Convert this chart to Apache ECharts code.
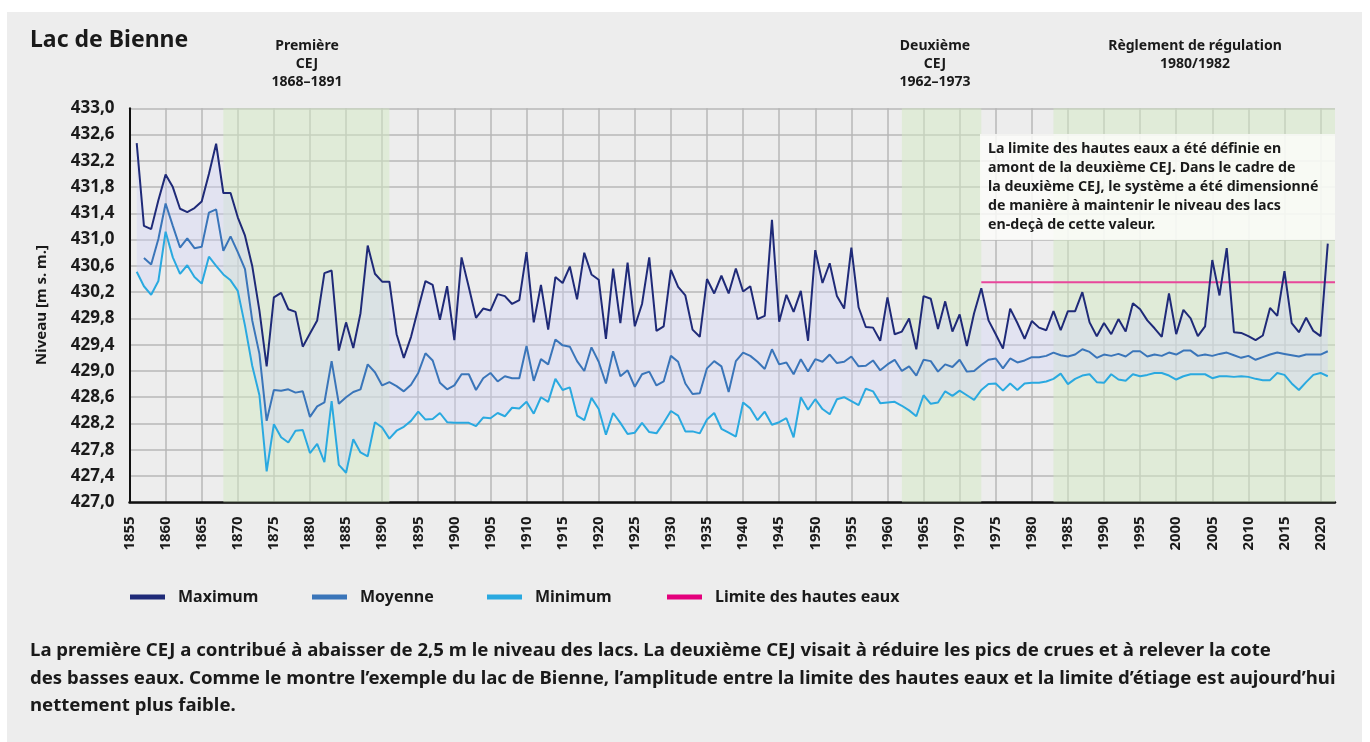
<!DOCTYPE html>
<html>
<head>
<meta charset="utf-8">
<script src="https://cdn.jsdelivr.net/npm/echarts@6/dist/echarts.min.js"></script>
<style>
  body { margin: 0; background: #ffffff; }
  #panel { position: absolute; left: 7px; top: 12px; width: 1355px; height: 730px; background: #ededed; }
  #main { position: absolute; left: 0; top: 0; width: 1370px; height: 742px; }
</style>
</head>
<body>
<div id="panel"></div>
<div id="main"></div>
<script>
// annual lake levels, 1856-2021 (m above sea level)
var firstYear = 1856;
var maxLevel = [
  432.47, 431.21, 431.16, 431.60, 431.99, 431.80, 431.47, 431.42, 431.48, 431.58,
  432.00, 432.46, 431.71, 431.71, 431.34, 431.06, 430.60, 429.92, 429.07, 430.12,
  430.19, 429.94, 429.90, 429.37, 429.57, 429.77, 430.49, 430.53, 429.31, 429.74,
  429.35, 429.88, 430.91, 430.48, 430.36, 430.36, 429.56, 429.20, 429.52, 429.95,
  430.37, 430.31, 429.78, 430.29, 429.47, 430.73, 430.28, 429.81, 429.95, 429.92,
  430.17, 430.14, 430.02, 430.08, 430.81, 429.74, 430.31, 429.63, 430.43, 430.34,
  430.59, 430.09, 430.80, 430.47, 430.39, 429.49, 430.56, 429.73, 430.65, 429.68,
  430.02, 430.73, 429.61, 429.68, 430.54, 430.28, 430.15, 429.63, 429.52, 430.40,
  430.18, 430.45, 430.18, 430.56, 430.21, 430.29, 429.79, 429.84, 431.30, 429.75,
  430.16, 429.90, 430.22, 429.46, 430.84, 430.34, 430.64, 430.14, 429.95, 430.88,
  429.97, 429.67, 429.66, 429.46, 430.12, 429.56, 429.60, 429.80, 429.33, 430.14,
  430.10, 429.64, 430.06, 429.60, 429.86, 429.38, 429.88, 430.26, 429.77, 429.56,
  429.34, 429.95, 429.73, 429.49, 429.76, 429.66, 429.62, 429.91, 429.62, 429.91,
  429.91, 430.20, 429.74, 429.53, 429.73, 429.56, 429.79, 429.60, 430.03, 429.94,
  429.77, 429.65, 429.52, 430.18, 429.56, 429.93, 429.80, 429.53, 429.68, 430.69,
  430.15, 430.87, 429.59, 429.58, 429.53, 429.47, 429.54, 429.96, 429.84, 430.52,
  429.73, 429.59, 429.81, 429.61, 429.53, 430.94
];
var meanLevel = [
  null,   430.72, 430.62, 431.01, 431.55, 431.21, 430.88, 431.02, 430.87, 430.89,
  431.41, 431.46, 430.83, 431.05, 430.81, 430.55, 429.77, 429.26, 428.24, 428.71,
  428.70, 428.72, 428.67, 428.69, 428.30, 428.46, 428.52, 429.15, 428.50, 428.60,
  428.68, 428.72, 429.10, 428.98, 428.78, 428.83, 428.77, 428.69, 428.79, 428.97,
  429.27, 429.16, 428.82, 428.72, 428.78, 428.95, 428.95, 428.71, 428.89, 428.97,
  428.84, 428.92, 428.89, 428.89, 429.38, 428.85, 429.18, 429.10, 429.48, 429.39,
  429.37, 429.15, 429.00, 429.36, 429.14, 428.81, 429.30, 428.92, 429.01, 428.76,
  428.95, 428.99, 428.78, 428.84, 429.23, 429.14, 428.81, 428.65, 428.66, 429.04,
  429.15, 429.07, 428.68, 429.15, 429.28, 429.23, 429.14, 429.03, 429.33, 429.10,
  429.13, 428.95, 429.18, 428.99, 429.18, 429.14, 429.25, 429.12, 429.14, 429.22,
  429.07, 429.08, 429.16, 429.01, 429.10, 429.17, 429.00, 429.07, 428.93, 429.17,
  429.15, 428.99, 429.10, 429.06, 429.17, 428.99, 429.00, 429.09, 429.17, 429.19,
  429.04, 429.19, 429.13, 429.16, 429.21, 429.21, 429.23, 429.28, 429.24, 429.22,
  429.25, 429.33, 429.29, 429.20, 429.25, 429.23, 429.26, 429.22, 429.30, 429.30,
  429.22, 429.25, 429.23, 429.28, 429.25, 429.31, 429.31, 429.23, 429.25, 429.23,
  429.26, 429.28, 429.24, 429.20, 429.23, 429.17, 429.21, 429.25, 429.28, 429.26,
  429.24, 429.22, 429.25, 429.25, 429.25, 429.30
];
var minLevel = [
  430.51, 430.29, 430.16, 430.37, 431.12, 430.73, 430.48, 430.61, 430.43, 430.33,
  430.74, 430.60, 430.47, 430.38, 430.22, 429.69, 429.08, 428.63, 427.47, 428.19,
  427.99, 427.91, 428.09, 428.10, 427.75, 427.89, 427.61, 428.54, 427.57, 427.45,
  427.96, 427.76, 427.70, 428.22, 428.14, 427.97, 428.09, 428.15, 428.24, 428.38,
  428.26, 428.27, 428.36, 428.22, 428.21, 428.21, 428.21, 428.16, 428.29, 428.28,
  428.36, 428.31, 428.44, 428.43, 428.53, 428.35, 428.60, 428.53, 428.88, 428.71,
  428.75, 428.32, 428.25, 428.59, 428.42, 428.03, 428.36, 428.21, 428.04, 428.06,
  428.21, 428.07, 428.05, 428.21, 428.39, 428.32, 428.08, 428.08, 428.05, 428.26,
  428.36, 428.12, 428.06, 428.00, 428.52, 428.43, 428.25, 428.38, 428.18, 428.22,
  428.28, 427.99, 428.60, 428.41, 428.57, 428.42, 428.34, 428.57, 428.60, 428.54,
  428.48, 428.73, 428.69, 428.51, 428.52, 428.53, 428.47, 428.40, 428.31, 428.63,
  428.50, 428.52, 428.69, 428.62, 428.70, 428.63, 428.56, 428.71, 428.80, 428.81,
  428.70, 428.81, 428.71, 428.81, 428.82, 428.82, 428.84, 428.88, 428.96, 428.80,
  428.88, 428.93, 428.95, 428.83, 428.82, 428.95, 428.87, 428.85, 428.95, 428.92,
  428.94, 428.97, 428.97, 428.93, 428.87, 428.92, 428.95, 428.95, 428.95, 428.89,
  428.92, 428.92, 428.91, 428.92, 428.91, 428.88, 428.86, 428.86, 428.97, 428.94,
  428.81, 428.71, 428.83, 428.94, 428.97, 428.92
];
// high water limit, defined from 1973 on
var limitFrom = 1973;
var limitLevel = 430.35;
// green periods: 1st CEJ, 2nd CEJ, regulation
var periods = [[1868, 1891], [1962, 1973], [1983, 2022]];

var axisStart = 1855, axisEnd = 2022;
var years = [];
for (var y = axisStart; y <= axisEnd; y++) years.push(String(y));

function alignToYears(values, from) {
    return years.map(function(yr) {
        var i = Number(yr) - from;
        return (i >= 0 && i < values.length) ? values[i] : null;
    });
}

var maxData = alignToYears(maxLevel, firstYear);
var meanData = alignToYears(meanLevel, firstYear);
var minData = alignToYears(minLevel, firstYear);
var bandData = maxData.map(function(v, i) {
    return (v == null || minData[i] == null) ? null : +(v - minData[i]).toFixed(2);
});
var limitData = years.map(function(yr) { return Number(yr) >= limitFrom ? limitLevel : null; });

var font = 'Noto Sans';
var ink = '#1a1a1a';

// one legend per entry so each sits where the original puts it
var legendNames = ['Maximum', 'Moyenne', 'Minimum', 'Limite des hautes eaux'];
var legendLeft = [130, 312, 487, 667];
var legends = legendNames.map(function(name, i) {
    return {
        left: legendLeft[i], top: 589, padding: 0,
        itemWidth: 35, itemHeight: 5, icon: 'rect',
        data: [name],
        textStyle: { fontFamily: font, fontWeight: 'bold', fontSize: 16, color: ink, padding: [0, 0, 0, 8] }
    };
});

var myChart = echarts.init(document.getElementById('main'), null, { renderer: 'canvas' });

var option = {
    backgroundColor: 'transparent',
    animation: false,
    textStyle: { fontFamily: font },
    grid: { left: 129.5, right: 35, top: 108.3, bottom: 239.7, containLabel: false },
    legend: legends,
    xAxis: {
        type: 'category',
        data: years,
        boundaryGap: false,
        axisLine: { show: true, onZero: false, lineStyle: { color: '#111', width: 2.5 } },
        axisTick: { show: false },
        axisLabel: {
            interval: 4, rotate: 90, margin: 14,
            fontFamily: font, fontWeight: 'bold', fontSize: 15, color: ink
        },
        splitLine: { show: true, interval: 4, lineStyle: { color: '#b7b7b7', width: 1.5 } }
    },
    yAxis: {
        type: 'value',
        min: 427, max: 433, interval: 0.4,
        axisLine: { show: true, lineStyle: { color: '#111', width: 2 } },
        axisTick: { show: false },
        axisLabel: {
            margin: 15, fontFamily: font, fontWeight: 'bold', fontSize: 17, color: ink,
            formatter: function(v) { return v.toFixed(1).replace('.', ','); }
        },
        splitLine: { show: true, lineStyle: { color: '#b7b7b7', width: 1.5 } }
    },
    series: [{
        name: 'Minimum',
        type: 'line',
        stack: 'range',
        data: minData,
        showSymbol: false,
        z: 4,
        lineStyle: { color: '#2aa9e0', width: 2 },
        itemStyle: { color: '#2aa9e0' }
    }, {
        name: 'band',
        type: 'line',
        stack: 'range',
        data: bandData,
        showSymbol: false,
        z: 1,
        lineStyle: { width: 0, opacity: 0 },
        areaStyle: { color: 'rgba(208,212,248,0.55)' },
        markArea: {
            silent: true,
            itemStyle: { color: 'rgba(212,234,196,0.5)' },
            data: periods.map(function(p) {
                return [{ xAxis: String(p[0]) }, { xAxis: String(p[1]) }];
            })
        }
    }, {
        name: 'Moyenne',
        type: 'line',
        data: meanData,
        showSymbol: false,
        z: 4,
        lineStyle: { color: '#3a75b9', width: 2 },
        itemStyle: { color: '#3a75b9' }
    }, {
        name: 'Maximum',
        type: 'line',
        data: maxData,
        showSymbol: false,
        z: 5,
        lineStyle: { color: '#1f2a78', width: 2 },
        itemStyle: { color: '#1f2a78' }
    }, {
        name: 'Limite des hautes eaux',
        type: 'line',
        data: limitData,
        showSymbol: false,
        z: 3,
        lineStyle: { color: '#e8479b', width: 2 },
        itemStyle: { color: '#e4007c' }
    }],
    graphic: [
        // explanatory box over the plot
        { type: 'rect', z: 10, shape: { x: 980, y: 134, width: 355, height: 106 },
          style: { fill: 'rgba(252,252,250,0.82)' } },
        { type: 'text', z: 11, left: 988, top: 140,
          style: { text: 'La limite des hautes eaux a été définie en\namont de la deuxième CEJ. Dans le cadre de\nla deuxième CEJ, le système a été dimensionné\nde manière à maintenir le niveau des lacs\nen-deçà de cette valeur.',
                   font: 'bold 14.2px "Noto Sans"', fill: ink, lineHeight: 18.8 } },
        { type: 'text', left: 30, top: 29,
          style: { text: 'Lac de Bienne', font: 'bold 23px "Noto Sans"', fill: ink } },
        { type: 'text', x: 307, y: 37,
          style: { text: 'Première\nCEJ\n1868–1891', font: 'bold 14px "Noto Sans"', fill: ink,
                   lineHeight: 18, align: 'center', textAlign: 'center' } },
        { type: 'text', x: 935, y: 37,
          style: { text: 'Deuxième\nCEJ\n1962–1973', font: 'bold 14px "Noto Sans"', fill: ink,
                   lineHeight: 18, align: 'center', textAlign: 'center' } },
        { type: 'text', x: 1195, y: 37,
          style: { text: 'Règlement de régulation\n1980/1982', font: 'bold 14px "Noto Sans"', fill: ink,
                   lineHeight: 18, align: 'center', textAlign: 'center' } },
        { type: 'text', x: 42, y: 305, rotation: Math.PI / 2,
          style: { text: 'Niveau [m s. m.]', font: 'bold 15px "Noto Sans"', fill: ink,
                   align: 'center', textAlign: 'center', verticalAlign: 'middle', textVerticalAlign: 'middle' } },
        { type: 'text', left: 30, top: 637,
          style: { text: 'La première CEJ a contribué à abaisser de 2,5 m le niveau des lacs. La deuxième CEJ visait à réduire les pics de crues et à relever la cote\ndes basses eaux. Comme le montre l’exemple du lac de Bienne, l’amplitude entre la limite des hautes eaux et la limite d’étiage est aujourd’hui\nnettement plus faible.',
                   font: 'bold 18.6px "Noto Sans"', fill: ink, lineHeight: 27.5 } }
    ]
};

myChart.setOption(option);
</script>
</body>
</html>
